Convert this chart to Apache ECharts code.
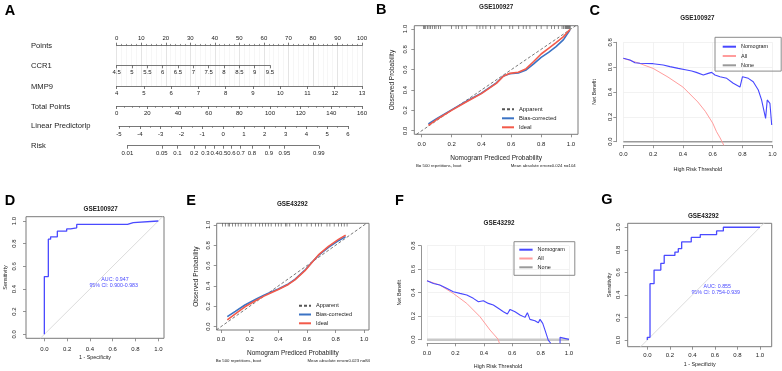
<!DOCTYPE html>
<html>
<head>
<meta charset="utf-8">
<script src="https://cdn.jsdelivr.net/npm/echarts@6/dist/echarts.min.js"></script>
<style>
  html, body { margin: 0; padding: 0; background: #fff; }
  #main { width: 782px; height: 371px; }
</style>
</head>
<body>
<div id="main"></div>
<script>
// ---------- data ----------
// A: nomogram scales [min, max, label step]
const nomoRows = ['Points', 'CCR1', 'MMP9', 'Total Points', 'Linear Predictorlp', 'Risk'];
const pointsScale = [0, 100, 10];
const ccr1Scale = [4.5, 9.5, 0.5];
const mmp9Scale = [4, 13, 1];
const totalScale = [0, 160, 20];
const lpScale = [-5, 6, 1];
const riskTicks = [0.01, 0.05, 0.1, 0.2, 0.3, 0.4, 0.5, 0.6, 0.7, 0.8, 0.9, 0.95, 0.99];

const probTicks = [0, 0.2, 0.4, 0.6, 0.8, 1];

// B: calibration GSE100927
const calB_pred  = [0.045, 0.1, 0.2, 0.3, 0.4, 0.5, 0.547, 0.59, 0.647, 0.7, 0.75, 0.8, 0.85, 0.9, 0.95, 0.993];
const calB_bias  = [0.066, 0.118, 0.205, 0.29, 0.37, 0.47, 0.538, 0.56, 0.568, 0.597, 0.656, 0.72, 0.77, 0.826, 0.895, 0.99];
const calB_ideal = [0.052, 0.11, 0.2, 0.285, 0.365, 0.465, 0.535, 0.564, 0.575, 0.61, 0.68, 0.754, 0.81, 0.866, 0.925, 0.995];
const rugB = [0.011, 0.018, 0.027, 0.038, 0.049, 0.06, 0.071, 0.085, 0.096, 0.112, 0.127, 0.2, 0.23, 0.246, 0.27, 0.3,
  0.37, 0.39, 0.41, 0.43, 0.46, 0.49, 0.535, 0.59, 0.61, 0.65, 0.68, 0.7, 0.725, 0.77, 0.8, 0.84, 0.87, 0.89, 0.915,
  0.94, 0.95, 0.96, 0.965, 0.97, 0.975, 0.98, 0.985, 0.99, 0.995];

// C: decision curve GSE100927
const dcaC_thr  = [0, 0.045, 0.078, 0.112, 0.2, 0.268, 0.313, 0.369, 0.38, 0.425, 0.459, 0.49, 0.537, 0.57, 0.593, 0.615,
  0.649, 0.694, 0.738, 0.783, 0.8, 0.839, 0.872, 0.906, 0.928, 0.955, 0.966, 0.984, 0.996];
const dcaC_nomo = [0.671, 0.658, 0.636, 0.631, 0.628, 0.617, 0.604, 0.59, 0.577, 0.577, 0.569, 0.558, 0.537, 0.55, 0.558, 0.537,
  0.523, 0.51, 0.47, 0.44, 0.523, 0.51, 0.483, 0.416, 0.336, 0.188, 0.336, 0.309, 0.134];
const dcaC_allThr = [0, 0.1, 0.2, 0.3, 0.4, 0.5, 0.55, 0.6, 0.626, 0.65, 0.675];
const dcaC_all    = [0.671, 0.634, 0.59, 0.52, 0.44, 0.32, 0.245, 0.15, 0.08, 0.03, -0.03];

// D: ROC GSE100927
const rocD_fpr = [0, 0, 0.035, 0.035, 0.055, 0.055, 0.114, 0.114, 0.196, 0.196, 0.23, 0.23, 0.284, 0.284, 0.73, 0.73, 0.78, 0.78, 1];
const rocD_tpr = [0, 0.51, 0.51, 0.84, 0.84, 0.86, 0.86, 0.91, 0.91, 0.93, 0.93, 0.94, 0.94, 0.97, 0.97, 0.985, 0.985, 1, 1];

// E: calibration GSE43292
const calE_pred  = [0.044, 0.1, 0.167, 0.25, 0.3, 0.35, 0.4, 0.47, 0.516, 0.586, 0.633, 0.68, 0.75, 0.82, 0.87];
const calE_bias  = [0.098, 0.15, 0.213, 0.275, 0.31, 0.34, 0.37, 0.42, 0.465, 0.555, 0.63, 0.7, 0.78, 0.845, 0.885];
const calE_ideal = [0.066, 0.125, 0.195, 0.262, 0.3, 0.334, 0.365, 0.415, 0.46, 0.55, 0.628, 0.705, 0.79, 0.858, 0.9];
const rugE = [0.01, 0.03, 0.05, 0.06, 0.08, 0.1, 0.12, 0.14, 0.17, 0.19, 0.21, 0.24, 0.27, 0.29, 0.31, 0.33, 0.35, 0.38,
  0.4, 0.42, 0.45, 0.46, 0.48, 0.52, 0.54, 0.56, 0.6, 0.63, 0.66, 0.68, 0.7, 0.74, 0.76, 0.79, 0.82, 0.84, 0.86, 0.88];

// F: decision curve GSE43292
const dcaF_thr  = [0, 0.045, 0.09, 0.138, 0.185, 0.232, 0.28, 0.326, 0.362, 0.397, 0.432, 0.467, 0.502, 0.538, 0.566, 0.585,
  0.62, 0.655, 0.69, 0.707, 0.725, 0.76, 0.784, 0.796, 0.815, 0.831, 0.854, 0.871, 0.9, 0.937, 0.937, 0.945, 1.0];
const dcaF_nomo = [0.502, 0.479, 0.465, 0.437, 0.408, 0.394, 0.38, 0.352, 0.323, 0.332, 0.309, 0.295, 0.267, 0.238, 0.218, 0.258,
  0.238, 0.21, 0.19, 0.23, 0.173, 0.162, 0.145, 0.173, 0.139, 0.082, -0.003, -0.03, null, -0.03, 0.02, 0.005, 0.003];
const dcaF_allThr = [0, 0.09, 0.185, 0.28, 0.373, 0.444, 0.5, 0.51];
const dcaF_all    = [0.502, 0.465, 0.394, 0.309, 0.196, 0.082, 0.005, -0.03];

// G: ROC GSE43292
const rocG_fpr = [0, 0, 0.024, 0.024, 0.06, 0.06, 0.12, 0.12, 0.15, 0.15, 0.245, 0.245, 0.275, 0.275, 0.305, 0.305,
  0.39, 0.39, 0.47, 0.47, 0.615, 0.615, 0.675, 0.675, 1];
const rocG_tpr = [0, 0.024, 0.024, 0.5, 0.5, 0.62, 0.62, 0.68, 0.68, 0.75, 0.75, 0.78, 0.78, 0.81, 0.81, 0.87,
  0.87, 0.91, 0.91, 0.935, 0.935, 0.967, 0.967, 1, 1];

const noneThr = [0, 1];
const noneNB = [0, 0];

// ---------- build ----------
const FONT = '"Liberation Sans", Arial, sans-serif';
const INK = '#222';
const BOX = '#7a7a7a';
const grids = [], xAxes = [], yAxes = [], series = [], legends = [], graphics = [];

const zip = (a, b) => a.map((v, i) => [v, b[i]]);
const logit = p => Math.log(p / (1 - p));
const fmt1 = v => v.toFixed(1);

function addGrid(rect, xa, ya, extra) {
  const i = grids.length;
  grids.push(Object.assign({ left: rect[0], top: rect[1], width: rect[2], height: rect[3] }, extra || {}));
  xAxes.push(Object.assign({ gridIndex: i, type: 'value' }, xa));
  yAxes.push(Object.assign({ gridIndex: i, type: 'value' }, ya));
  return i;
}

function txt(x, y, s, size, extra) {
  graphics.push({
    type: 'text', x: x, y: y, silent: true,
    style: Object.assign({ text: s, fontSize: size, fontFamily: FONT, fill: INK, align: 'center', verticalAlign: 'middle' }, extra || {})
  });
}

function lineSeries(g, name, data, color, width, extra) {
  series.push(Object.assign({
    type: 'line', name: name, xAxisIndex: g, yAxisIndex: g, data: data,
    symbol: 'none', silent: true,
    itemStyle: { color: color },
    lineStyle: { color: color, width: width }
  }, extra || {}));
}

// ---- A: nomogram ----
const nomoLine = { onZero: false, lineStyle: { color: '#555', width: 0.8 } };
const nomoLab = (m) => ({ fontSize: 6, color: INK, fontFamily: FONT, margin: m });
const hiddenY = { show: false, min: 0, max: 1 };

function nomoAxis(rowY, left, right, scale, o) {
  const [min, max, step] = scale;
  const onTop = !!o.top;
  return addGrid([left, onTop ? rowY : rowY - 1, right - left, onTop ? o.height : 1], Object.assign({
    position: onTop ? 'top' : 'bottom',
    min: min, max: max, interval: step,
    axisLine: nomoLine,
    axisTick: { length: 3, lineStyle: { color: '#555', width: 0.8 } },
    minorTick: { show: !!o.minor, splitNumber: o.minor || 1, length: 1.8, lineStyle: { color: '#666', width: 0.7 } },
    axisLabel: nomoLab(o.margin || 4),
    splitLine: { show: false }
  }, o.axis || {}), hiddenY);
}

const nomoY = [45.7, 65.3, 86, 106, 126, 145.7];
const nomoL = 116.7, nomoR = 362;
nomoAxis(nomoY[0], nomoL, nomoR, pointsScale, {
  top: true, height: nomoY[2] - nomoY[0], minor: 5, margin: 4,
  axis: {
    splitLine: { show: true, lineStyle: { color: '#d9d9d9', width: 0.7 } },
    minorSplitLine: { show: true, lineStyle: { color: '#f0f0f0', width: 0.6 } }
  }
});
nomoAxis(nomoY[1], nomoL, 270, ccr1Scale, { margin: 4.5 });
nomoAxis(nomoY[2], nomoL, nomoR, mmp9Scale, { margin: 4 });
nomoAxis(nomoY[3], nomoL, nomoR, totalScale, { minor: 4, margin: 4 });
const lpL = 119, lpR = 348;
nomoAxis(nomoY[4], lpL, lpR, lpScale, { minor: 2, margin: 5 });
// risk axis sits on the linear predictor scale (logit of risk)
const riskLP = riskTicks.map(logit);
const lpPx = v => lpL + (v - lpScale[0]) / (lpScale[1] - lpScale[0]) * (lpR - lpL);
nomoAxis(nomoY[5], lpPx(riskLP[0]), lpPx(riskLP[riskLP.length - 1]), [riskLP[0], riskLP[riskLP.length - 1], 1], {
  margin: 5,
  axis: {
    interval: null,
    axisTick: { customValues: riskLP, length: 3, lineStyle: { color: '#555', width: 0.8 } },
    axisLabel: Object.assign(nomoLab(5), {
      customValues: riskLP,
      formatter: v => String(Math.round(100 / (1 + Math.exp(-v))) / 100)
    })
  }
});
const nomoLabelY = [46, 66, 86.7, 106.7, 126, 146.3];
nomoRows.forEach((r, i) => txt(31, nomoLabelY[i], r, 7.6, { align: 'left' }));

// ---- R style boxed plot (calibration / ROC) ----
function boxPlot(rect, xr, yr, o) {
  return addGrid(rect, {
    min: xr[0], max: xr[1],
    axisLine: { show: false, onZero: false }, splitLine: { show: false },
    axisTick: { show: true, customValues: probTicks, length: 3, lineStyle: { color: BOX, width: 0.8 } },
    axisLabel: { customValues: probTicks, formatter: fmt1, fontSize: 6, color: INK, fontFamily: FONT, margin: o.xm },
    name: o.xName, nameLocation: 'middle', nameGap: o.xGap,
    nameTextStyle: { fontSize: o.xFs, color: INK, fontFamily: FONT }
  }, {
    min: yr[0], max: yr[1],
    axisLine: { show: false, onZero: false }, splitLine: { show: false },
    axisTick: { show: true, customValues: probTicks, length: 3, lineStyle: { color: BOX, width: 0.8 } },
    axisLabel: { customValues: probTicks, formatter: fmt1, fontSize: 6, color: INK, fontFamily: FONT, margin: o.ym, rotate: 90 },
    name: o.yName, nameLocation: 'middle', nameGap: o.yGap, nameRotate: 90,
    nameTextStyle: { fontSize: o.yFs, color: INK, fontFamily: FONT }
  }, { show: true, borderColor: BOX, borderWidth: 1, backgroundColor: 'transparent' });
}

function calibration(rect, xr, yr, pred, bias, ideal, rug, o) {
  const g = boxPlot(rect, xr, yr, Object.assign({
    xName: 'Nomogram Prediced Probability', yName: 'Observed Probability', xFs: 6.5, yFs: 6.5
  }, o));
  lineSeries(g, 'Apparent', [[yr[0], yr[0]], [yr[1], yr[1]]], '#555', 0.8, { lineStyle: { color: '#555', width: 0.8, type: [3, 2] } });
  lineSeries(g, 'Bias-corrected', zip(pred, bias), '#3b73c4', 1.6);
  lineSeries(g, 'Ideal', zip(pred, ideal), '#f35a4a', 1.6);
  series.push({ type: 'scatter', xAxisIndex: g, yAxisIndex: g, silent: true, symbol: 'rect',
    symbolSize: [0.7, 3.2], symbolOffset: [0, 1.6], itemStyle: { color: '#333' },
    data: rug.map(v => [v, yr[1]]) });
  return g;
}

function roc(rect, xr, yr, fpr, tpr, o) {
  const g = boxPlot(rect, xr, yr, Object.assign({
    xName: '1 - Specificity', yName: 'Sensitivity', xFs: 5.4, yFs: 5.4
  }, o));
  const lo = Math.max(xr[0], yr[0]), hi = Math.min(xr[1], yr[1]);
  lineSeries(g, '', [[lo, lo], [hi, hi]], '#dcdcdc', 1);
  lineSeries(g, '', zip(fpr, tpr), '#4a4aff', 1.3);
  return g;
}

function dca(rect, off, thr, nomo, allThr, all, o) {
  const g = addGrid(rect, {
    min: 0, max: 1, interval: 0.2, offset: off[0],
    axisLine: { onZero: false, lineStyle: { color: BOX, width: 0.8 } },
    axisTick: { length: 3, lineStyle: { color: BOX, width: 0.8 } },
    axisLabel: { formatter: fmt1, fontSize: 6, color: INK, fontFamily: FONT, margin: o.xm },
    splitLine: { show: true, lineStyle: { color: '#efefef', width: 0.8 } },
    name: 'High Risk Threshold', nameLocation: 'middle', nameGap: o.xGap,
    nameTextStyle: { fontSize: 5.4, color: INK, fontFamily: FONT }
  }, {
    min: 0, max: 0.8, interval: 0.2, offset: off[1],
    axisLine: { onZero: false, lineStyle: { color: BOX, width: 0.8 } },
    axisTick: { length: 3, lineStyle: { color: BOX, width: 0.8 } },
    axisLabel: { formatter: fmt1, fontSize: 6, color: INK, fontFamily: FONT, margin: o.ym, rotate: 90 },
    splitLine: { show: true, lineStyle: { color: '#efefef', width: 0.8 } },
    name: 'Net Benefit', nameLocation: 'middle', nameGap: o.yGap, nameRotate: 90,
    nameTextStyle: { fontSize: 5.2, color: INK, fontFamily: FONT }
  });
  lineSeries(g, 'None', zip(noneThr, noneNB), o.noneColor, o.noneWidth, { clip: false });
  lineSeries(g, 'All', zip(allThr, all), '#ff9c9c', 1, { clip: false });
  lineSeries(g, 'Nomogram', zip(thr, nomo), '#4747ff', 1.1, { clip: false, connectNulls: false });
  return g;
}

// B
calibration([414.3, 25.7, 163.7, 108.6], [-0.0496, 1.047], [-0.035, 1.032], calB_pred, calB_bias, calB_ideal, rugB,
  { xm: 7.5, ym: 6, xGap: 20, yGap: 19 });
// E
calibration([216.7, 223.3, 152.3, 106.7], [-0.03, 1.033], [-0.033, 1.016], calE_pred, calE_bias, calE_ideal, rugE,
  { xm: 6.3, ym: 5.4, xGap: 20, yGap: 17 });
// D
roc([26, 216.7, 138, 121.6], [-0.161, 1.05], [-0.035, 1.038], rocD_fpr, rocD_tpr, { xm: 7.7, ym: 9, xGap: 16.7, yGap: 18 });
// G
roc([627.7, 223.3, 144, 123.4], [-0.174, 1.104], [-0.059, 1.035], rocG_fpr, rocG_tpr, { xm: 5.3, ym: 6.4, xGap: 15.5, yGap: 15.7 });
// C
dca([623.3, 42.3, 149, 99.4], [3.5, 7], dcaC_thr, dcaC_nomo, dcaC_allThr, dcaC_all,
  { xm: 5.8, ym: 3.3, xGap: 22, yGap: 18.8, noneColor: '#9a9a9a', noneWidth: 1.4 });
// F
dca([427, 245.7, 142, 94], [3.6, 6], dcaF_thr, dcaF_nomo, dcaF_allThr, dcaF_all,
  { xm: 7, ym: 4.7, xGap: 21, yGap: 18.5, noneColor: '#c9c9c9', noneWidth: 2.6 });

// legends (line icons only: the symbol part is hidden)
const legText = fs => ({ fontSize: fs, color: INK, fontFamily: FONT, lineHeight: 6 });
const legCommon = { orient: 'vertical', itemHeight: 6, selectedMode: false, itemStyle: { opacity: 0 } };
legends.push(Object.assign({ data: ['Apparent', 'Bias-corrected', 'Ideal'], left: 501, top: 106.3,
  itemWidth: 12, itemGap: 3, padding: 0, textStyle: legText(5.8) }, legCommon));
legends.push(Object.assign({ data: ['Apparent', 'Bias-corrected', 'Ideal'], left: 298, top: 302.7,
  itemWidth: 12, itemGap: 2.8, padding: 0, textStyle: legText(5.6) }, legCommon));
legends.push(Object.assign({ data: ['Nomogram', 'All', 'None'], left: 715, top: 37.3,
  itemWidth: 13.3, itemGap: 3.3, padding: [6.4, 13, 2.8, 6.7],
  borderColor: '#8a8a8a', borderWidth: 1, textStyle: legText(5.5) }, legCommon));
legends.push(Object.assign({ data: ['Nomogram', 'All', 'None'], left: 514, top: 241.7,
  itemWidth: 13.3, itemGap: 2.8, padding: [5, 10, 5, 4.3],
  borderColor: '#8a8a8a', borderWidth: 1, textStyle: legText(5.5) }, legCommon));

// panel letters and titles
const letters = [['A', 10, 11], ['B', 381.3, 9.5], ['C', 594.7, 11.3], ['D', 10, 201], ['E', 191, 201], ['F', 399.5, 200.7], ['G', 607, 200.3]];
letters.forEach(l => txt(l[1], l[2], l[0], 14.5, { fontWeight: 'bold', fill: '#000' }));
const titles = [['GSE100927', 496.2, 7.3], ['GSE100927', 697.3, 18.3], ['GSE100927', 100.7, 209.3],
  ['GSE43292', 292.3, 204.3], ['GSE43292', 499, 223.3], ['GSE43292', 703.3, 216.7]];
titles.forEach(t => txt(t[1], t[2], t[0], 6.3, { fontWeight: 'bold' }));

// footnotes and AUC annotations
txt(416, 165.7, 'B= 500 repetitions, boot', 4.3, { align: 'left' });
txt(575.7, 165.7, 'Mean absolute error=0.024 n=104', 4.3, { align: 'right' });
txt(215.7, 360.7, 'B= 500 repetitions, boot', 4.3, { align: 'left' });
txt(370, 360.7, 'Mean absolute error=0.023 n=84', 4.3, { align: 'right' });
txt(115, 279.3, 'AUC: 0.947', 5.3, { fill: '#4a4aff' });
txt(113.7, 285.7, '95% CI: 0.900-0.983', 5.3, { fill: '#4a4aff' });
txt(717.3, 286.7, 'AUC: 0.855', 5.3, { fill: '#4a4aff' });
txt(715.7, 292.3, '95% CI: 0.754-0.939', 5.3, { fill: '#4a4aff' });

const chart = echarts.init(document.getElementById('main'));
chart.setOption({
  animation: false,
  backgroundColor: '#fff',
  textStyle: { fontFamily: FONT },
  grid: grids,
  xAxis: xAxes,
  yAxis: yAxes,
  legend: legends,
  series: series,
  graphic: graphics
});
</script>
</body>
</html>
